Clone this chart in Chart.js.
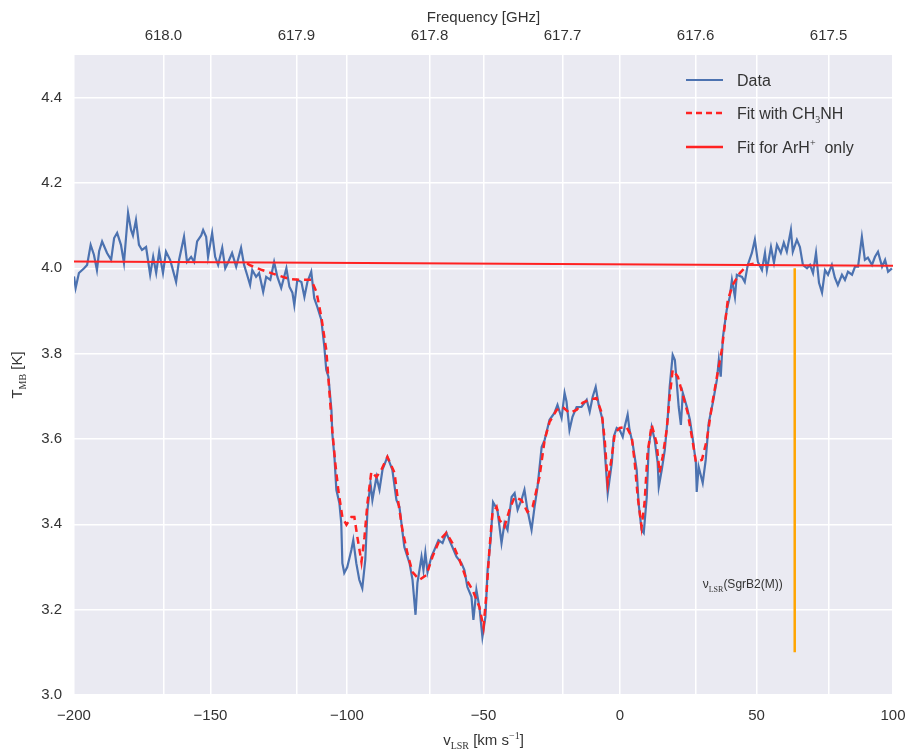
<!DOCTYPE html>
<html lang="en">
<head>
    <meta charset="UTF-8">
    <script src="https://cdn.jsdelivr.net/npm/chart.js"></script>
    <title>ArH+ spectrum</title>
    <style>
        body { margin: 0; background: #fff; }
        #box { width: 906px; height: 752px; }
    </style>
</head>
<body>
    <div id="box"><canvas id="myChart"></canvas></div>

    <script>
        // observed spectrum (v_LSR in km/s, T_MB in K)
        const dataV = [-200, -199.4, -198.2, -196.3, -195.2, -193.9, -192.7, -191.6, -190.8, -189.7,
            -187.9, -186.4, -185.3, -184.2, -182.8, -181.7, -180.2, -179.1, -178.4, -177.3,
            -176.2, -175.1, -173.6, -172.1, -171.0, -169.9, -168.8, -167.4, -166.3, -164.8,
            -164.1, -162.6, -161.5, -159.7, -158.6, -157.1, -156.0, -154.9, -153.4, -152.7,
            -151.6, -150.9, -149.4, -148.3, -147.2, -145.7, -144.6, -143.5, -142.1, -140.6,
            -138.8, -137.7, -136.6, -135.5, -134.7, -133.3, -132.2, -130.7, -129.6, -128.1,
            -126.7, -125.5, -124.1, -122.2, -121.1, -120.0, -119.3, -118.2, -116.7, -115.6,
            -114.5, -113.1, -112.0, -110.9, -109.4, -108.3, -107.6, -106.8, -105.7, -105.4,
            -104.6, -103.9, -102.8, -102.1, -101.7, -101.0, -99.9, -98.4, -97.7, -96.6,
            -95.5, -94.4, -93.3, -92.5, -91.4, -90.7, -89.2, -88.1, -87.0, -85.2,
            -83.4, -81.9, -80.8, -79.0, -77.1, -76.0, -74.9, -74.2, -72.7, -72.0,
            -71.3, -70.5, -69.1, -68.0, -66.5, -65.0, -63.6, -62.5, -61.4, -59.9,
            -58.1, -57.0, -55.9, -54.4, -53.7, -52.6, -51.5, -50.4, -49.3, -48.5,
            -47.4, -46.5, -44.9, -43.4, -42.3, -41.2, -39.7, -38.6, -37.5, -36.1,
            -35.0, -33.9, -32.4, -31.3, -30.2, -28.7, -27.6, -25.8, -24.0, -22.9,
            -21.4, -20.3, -19.6, -18.5, -17.4, -15.9, -14.1, -12.2, -11.1, -10.0,
            -8.9, -7.8, -6.4, -5.6, -4.5, -3.0, -2.3, -1.2, -0.1, 1.0,
            1.7, 2.8, 3.5, 4.6, 6.1, 6.8, 7.9, 8.7, 9.8, 10.5,
            11.6, 12.7, 13.8, 14.2, 15.3, 16.4, 17.5, 18.2, 19.3, 20.1,
            20.8, 21.5, 22.3, 23.0, 24.5, 25.6, 26.7, 27.8, 28.1, 28.8,
            30.3, 31.4, 32.5, 34.0, 35.5, 36.2, 36.9, 37.7, 39.1, 40.2,
            41.0, 42.1, 42.8, 44.7, 45.7, 46.8, 48.3, 49.4, 50.5, 52.0,
            53.1, 53.8, 55.3, 56.4, 57.5, 58.9, 60.0, 61.1, 62.6, 63.3,
            64.8, 65.9, 67.0, 68.5, 69.6, 70.7, 71.8, 72.9, 74.0, 75.1,
            76.2, 77.6, 78.7, 79.8, 81.3, 82.4, 83.5, 85.0, 86.1, 87.2,
            88.6, 89.7, 90.8, 92.3, 93.4, 94.5, 96.0, 97.1, 98.2, 99.6];
        const dataT = [3.981, 3.954, 3.989, 4.000, 4.008, 4.055, 4.032, 3.996, 4.040, 4.063,
            4.036, 4.020, 4.071, 4.083, 4.055, 4.013, 4.130, 4.090, 4.077, 4.113,
            4.055, 4.043, 4.050, 3.985, 4.027, 3.989, 4.039, 3.989, 4.039, 4.020,
            4.004, 3.968, 4.020, 4.074, 4.015, 4.027, 4.015, 4.063, 4.077, 4.090,
            4.074, 4.027, 4.083, 4.027, 4.008, 4.048, 4.000, 4.015, 4.036, 4.004,
            4.048, 4.008, 3.985, 3.961, 3.996, 3.980, 3.989, 3.945, 3.980, 3.973,
            4.015, 3.980, 3.954, 4.000, 3.957, 3.943, 3.914, 3.973, 3.968, 3.933,
            3.968, 3.992, 3.930, 3.910, 3.879, 3.816, 3.762, 3.746, 3.668, 3.614,
            3.558, 3.481, 3.450, 3.403, 3.309, 3.286, 3.300, 3.340, 3.363, 3.309,
            3.270, 3.250, 3.317, 3.434, 3.497, 3.457, 3.511, 3.481, 3.528, 3.558,
            3.528, 3.457, 3.441, 3.347, 3.309, 3.270, 3.188, 3.263, 3.324, 3.293,
            3.333, 3.288, 3.324, 3.340, 3.363, 3.356, 3.380, 3.363, 3.347, 3.324,
            3.309, 3.293, 3.253, 3.230, 3.176, 3.246, 3.206, 3.136, 3.183, 3.293,
            3.363, 3.452, 3.434, 3.356, 3.403, 3.387, 3.464, 3.473, 3.434, 3.457,
            3.481, 3.434, 3.387, 3.441, 3.488, 3.581, 3.598, 3.645, 3.661, 3.680,
            3.649, 3.708, 3.688, 3.621, 3.652, 3.675, 3.675, 3.692, 3.664, 3.699,
            3.722, 3.680, 3.645, 3.574, 3.473, 3.544, 3.605, 3.626, 3.621, 3.605,
            3.628, 3.657, 3.621, 3.591, 3.528, 3.450, 3.387, 3.380, 3.464, 3.581,
            3.628, 3.598, 3.544, 3.488, 3.528, 3.574, 3.652, 3.722, 3.797, 3.785,
            3.731, 3.675, 3.633, 3.708, 3.675, 3.645, 3.598, 3.544, 3.476, 3.535,
            3.497, 3.551, 3.638, 3.685, 3.739, 3.785, 3.746, 3.839, 3.903, 3.933,
            3.973, 3.933, 3.985, 3.980, 3.968, 4.008, 4.036, 4.067, 4.015, 3.996,
            4.036, 3.996, 4.050, 4.013, 4.055, 4.036, 4.060, 4.039, 4.090, 4.039,
            4.067, 4.050, 4.008, 4.000, 4.008, 3.989, 4.036, 3.966, 3.943, 3.996,
            3.985, 4.008, 3.978, 3.961, 3.985, 3.973, 3.992, 3.985, 4.004, 4.004,
            4.074, 4.020, 4.025, 4.008, 4.027, 4.039, 4.004, 4.020, 3.992, 4.000];

        // fit including CH3NH
        const fitV = [-136.6, -135.8, -131.1, -125.9, -121.1, -117.5, -113.1, -111.2, -109.4, -107.6,
            -106.5, -105.4, -104.3, -103.2, -101.7, -100.2, -98.4, -97.3, -96.2, -94.7,
            -93.6, -92.5, -91.1, -89.2, -87.4, -85.2, -82.6, -81.5, -79.7, -77.9,
            -76.0, -73.5, -70.9, -68.7, -66.1, -63.6, -61.4, -58.8, -56.2, -54.0,
            -51.5, -50.0, -48.9, -47.8, -46.7, -45.9, -45.2, -44.1, -42.3, -40.5,
            -38.6, -36.1, -33.9, -32.0, -29.5, -27.6, -25.8, -23.2, -21.0, -18.5,
            -15.9, -13.7, -11.1, -8.6, -6.7, -5.6, -4.5, -3.0, -1.9, -0.1,
            2.4, 4.3, 5.4, 6.5, 7.9, 9.0, 10.1, 11.6, 13.4, 14.5,
            15.6, 17.1, 18.2, 19.3, 21.2, 23.0, 24.8, 26.7, 27.8, 30.0,
            31.8, 33.6, 35.5, 37.3, 39.5, 41.3, 43.9, 46.8, 50.0];
        const fitT = [4.012, 4.008, 3.996, 3.985, 3.975, 3.973, 3.973, 3.945, 3.886, 3.809,
            3.715, 3.621, 3.544, 3.481, 3.417, 3.399, 3.417, 3.417, 3.370, 3.312,
            3.370, 3.450, 3.523, 3.511, 3.528, 3.558, 3.521, 3.464, 3.387, 3.333,
            3.288, 3.270, 3.281, 3.324, 3.363, 3.380, 3.356, 3.317, 3.270, 3.246,
            3.206, 3.159, 3.239, 3.343, 3.427, 3.434, 3.441, 3.410, 3.394, 3.434,
            3.464, 3.457, 3.429, 3.441, 3.511, 3.598, 3.640, 3.668, 3.675, 3.661,
            3.668, 3.685, 3.692, 3.696, 3.661, 3.598, 3.497, 3.558, 3.614, 3.626,
            3.628, 3.605, 3.544, 3.464, 3.394, 3.450, 3.567, 3.633, 3.591, 3.521,
            3.558, 3.621, 3.699, 3.762, 3.746, 3.703, 3.661, 3.591, 3.546, 3.551,
            3.598, 3.675, 3.746, 3.809, 3.926, 3.961, 3.989, 4.008, 4.012];

        // fit for ArH+ only (baseline)
        const arhV = [-200, 100];
        const arhT = [4.016, 4.006];

        // v_LSR of SgrB2(M)
        const sgrV = 64;
        const sgrT = [3.1, 4.0];
        const sgrLabelV = 59.6;
        const sgrLabelT = 3.25;

        // frequency axis range matching v = -200 .. 100
        const freqLo = 617.4516;
        const freqHi = 618.0672;

        const SANS = '"Liberation Sans", Arial, sans-serif';
        const SERIF = '"Liberation Serif", "DejaVu Serif", serif';
        const TXT = '#333333';
        const BLUE = '#4C72B0';
        const RED = '#FF2222';
        const ORANGE = '#FFA500';

        const pts = (xs, ys) => xs.map((x, i) => ({x: x, y: ys[i]}));

        // text with sub/superscript pieces: [[text, 'sub'|'sup'|null], ...]
        function rich(ctx, parts, x, y, size, align) {
            const fnt = p => p[1] ? Math.round(size * 0.65) + 'px ' + SERIF : size + 'px ' + SANS;
            let w = 0;
            parts.forEach(p => { ctx.font = fnt(p); w += ctx.measureText(p[0]).width; });
            let cx = align === 'center' ? x - w / 2 : (align === 'right' ? x - w : x);
            ctx.textAlign = 'left';
            ctx.textBaseline = 'alphabetic';
            parts.forEach(p => {
                ctx.font = fnt(p);
                const dy = p[1] === 'sub' ? size * 0.28 : (p[1] === 'sup' ? -size * 0.42 : 0);
                ctx.fillText(p[0], cx, y + dy);
                cx += ctx.measureText(p[0]).width;
            });
        }

        const deco = {
            id: 'deco',
            beforeDraw(chart) {
                const {ctx, chartArea: a} = chart;
                ctx.save();
                ctx.fillStyle = '#EAEAF2';
                ctx.fillRect(a.left, a.top, a.right - a.left, a.bottom - a.top);
                ctx.restore();
            },
            afterDraw(chart) {
                const {ctx, chartArea: a, scales} = chart;
                ctx.save();
                ctx.fillStyle = TXT;
                const cx = (a.left + a.right) / 2;
                rich(ctx, [['Frequency [GHz]', null]], cx, 22, 15, 'center');
                rich(ctx, [['v', null], ['LSR', 'sub'], [' [km s', null], ['\u22121', 'sup'], [']', null]], cx, 745, 15, 'center');
                ctx.save();
                ctx.translate(22, (a.top + a.bottom) / 2);
                ctx.rotate(-Math.PI / 2);
                rich(ctx, [['T', null], ['MB', 'sub'], [' [K]', null]], 0, 0, 15, 'center');
                ctx.restore();

                // annotation
                const px = scales.x.getPixelForValue(sgrLabelV);
                const py = scales.y.getPixelForValue(sgrLabelT);
                rich(ctx, [['\u03bd', null], ['LSR', 'sub'], ['(SgrB2(M))', null]], px, py, 12, 'right');

                // legend
                const lx = a.right - 207, tx = a.right - 156;
                const rows = [
                    {y: a.top + 25, c: BLUE, dash: [], w: 2, t: [['Data', null]]},
                    {y: a.top + 58, c: RED, dash: [6, 4], w: 2.5, t: [['Fit with CH', null], ['3', 'sub'], ['NH', null]]},
                    {y: a.top + 92, c: RED, dash: [], w: 2.5, t: [['Fit for ArH', null], ['+', 'sup'], ['  only', null]]}
                ];
                rows.forEach(r => {
                    ctx.strokeStyle = r.c;
                    ctx.lineWidth = r.w;
                    ctx.setLineDash(r.dash);
                    ctx.beginPath();
                    ctx.moveTo(lx, r.y);
                    ctx.lineTo(lx + 37, r.y);
                    ctx.stroke();
                    ctx.setLineDash([]);
                    ctx.fillStyle = TXT;
                    rich(ctx, r.t, tx, r.y + 6, 16, 'left');
                });
                ctx.restore();
            }
        };

        const gridOpt = {color: '#FFFFFF', lineWidth: 1.5, drawTicks: false};
        const tickFont = {family: SANS, size: 15};

        const ctx = document.getElementById('myChart').getContext('2d');
        const myChart = new Chart(ctx, {
            type: 'line',
            data: {
                datasets: [
                    {label: 'Data', data: pts(dataV, dataT), borderColor: BLUE, borderWidth: 2.2, pointRadius: 0, order: 4},
                    {label: 'Fit with CH3NH', data: pts(fitV, fitT), borderColor: RED, borderWidth: 2.5, borderDash: [7, 5], pointRadius: 0, order: 3},
                    {label: 'Fit for ArH+ only', data: pts(arhV, arhT), borderColor: RED, borderWidth: 2, pointRadius: 0, order: 2},
                    {label: 'vLSR', data: pts([sgrV, sgrV], sgrT), borderColor: ORANGE, borderWidth: 2.5, pointRadius: 0, order: 1}
                ]
            },
            options: {
                responsive: true,
                maintainAspectRatio: false,
                animation: false,
                layout: {padding: {left: 0, right: 13, top: 0, bottom: 0}},
                plugins: {legend: {display: false}, tooltip: {enabled: false}},
                scales: {
                    x: {
                        type: 'linear', position: 'bottom', min: -200, max: 100,
                        grid: gridOpt, border: {display: false},
                        ticks: {stepSize: 50, autoSkip: false, maxRotation: 0, padding: 12, color: TXT, font: tickFont,
                            callback: v => String(v).replace('-', '\u2212')},
                        afterFit: s => { s.height = 57; s.paddingLeft = 0; s.paddingRight = 0; }
                    },
                    x2: {
                        type: 'linear', position: 'top', reverse: true, min: freqLo, max: freqHi,
                        grid: gridOpt, border: {display: false},
                        ticks: {stepSize: 0.1, includeBounds: false, autoSkip: false, maxRotation: 0, padding: 10, color: TXT, font: tickFont,
                            callback: v => v.toFixed(1)},
                        afterFit: s => { s.height = 55; s.paddingLeft = 0; s.paddingRight = 0; }
                    },
                    y: {
                        type: 'linear', min: 3.0, max: 4.5,
                        grid: gridOpt, border: {display: false},
                        ticks: {stepSize: 0.2, includeBounds: false, autoSkip: false, padding: 12, color: TXT, font: tickFont,
                            callback: v => v.toFixed(1)},
                        afterFit: s => { s.width = 74; }
                    }
                }
            },
            plugins: [deco]
        });
    </script>
</body>
</html>
